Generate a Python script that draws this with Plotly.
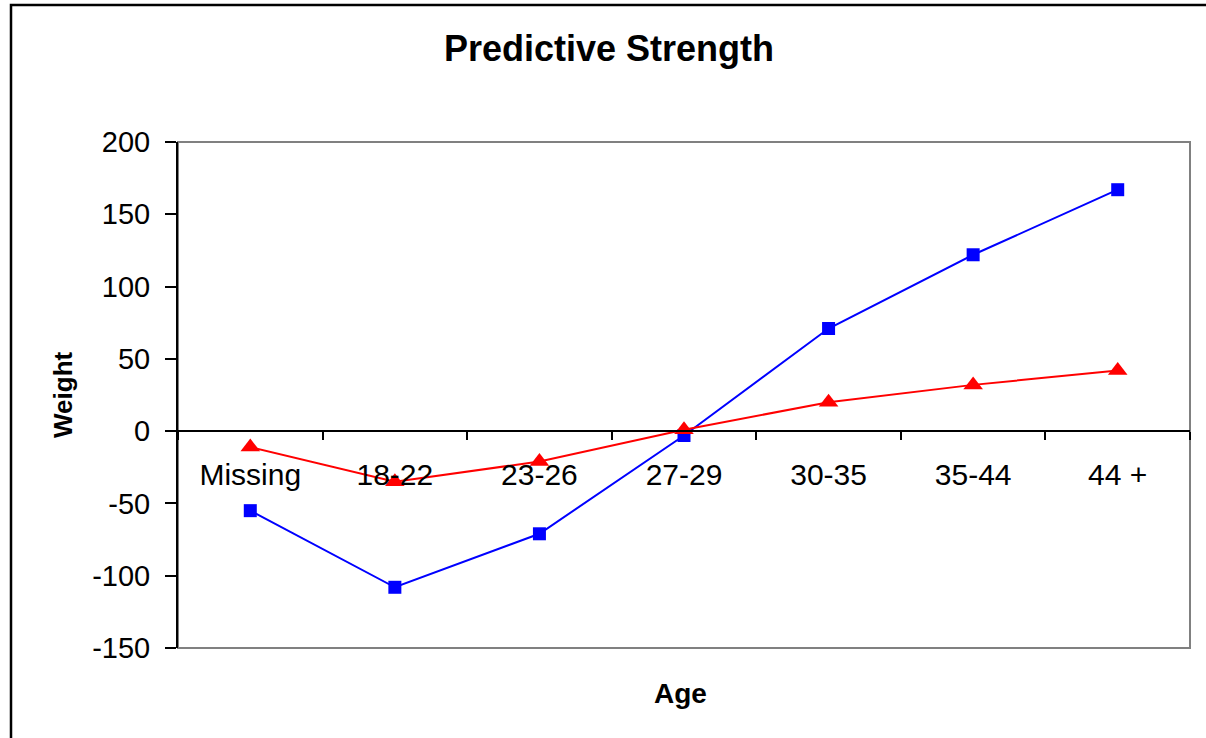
import plotly.graph_objects as go

categories = ["Missing", "18-22", "23-26", "27-29", "30-35", "35-44", "44 +"]
blue_values = [-55, -108, -71, -3, 71, 122, 167]
red_values = [-11, -35, -21, 1, 20, 32, 42]
y_ticks = [-150, -100, -50, 0, 50, 100, 150, 200]
y_tick_labels = ["-150", "-100", "-50", "0", "50", "100", "150", "200"]

FONT = "Arial, Liberation Sans, sans-serif"
W, H = 1206, 738
L, R, T, B = 178, 16, 142, 90
pw, ph = W - L - R, H - T - B

fig = go.Figure()
fig.add_trace(go.Scatter(x=categories, y=blue_values, mode="lines+markers",
                         line=dict(color="#0000FF", width=2),
                         marker=dict(symbol="square", size=13, color="#0000FF")))
fig.add_trace(go.Scatter(x=categories, y=red_values, mode="lines+markers",
                         line=dict(color="#FF0000", width=2),
                         marker=dict(symbol="triangle-up", size=17, color="#FF0000")))

ymin, ymax = -150, 200
zero_frac = (0 - ymin) / (ymax - ymin)

fig.update_layout(
    width=W, height=H,
    margin=dict(l=L, r=R, t=T, b=B),
    paper_bgcolor="white", plot_bgcolor="white",
    showlegend=False,
    font=dict(family=FONT, size=28, color="black"),
    title=dict(text="<b>Predictive Strength</b>", x=609 / W, xref="container", xanchor="center",
               y=1 - 48 / H, yref="container", yanchor="middle",
               font=dict(family=FONT, size=36, color="black")),
    xaxis=dict(type="category", range=[-0.5, 6.5], anchor="free", position=zero_frac,
               showline=True, linecolor="black", linewidth=2,
               ticks="outside", tickson="boundaries", ticklen=8, tickwidth=2, tickcolor="black",
               showgrid=False, zeroline=False,
               ticklabelstandoff=17,
               tickfont=dict(family=FONT, size=30, color="black")),
    yaxis=dict(range=[ymin, ymax], tickvals=y_ticks, ticktext=y_tick_labels,
               showline=True, linecolor="black", linewidth=2,
               ticks="outside", ticklen=11, tickwidth=2, tickcolor="black",
               showgrid=False, zeroline=False, ticklabelstandoff=9,
               tickfont=dict(family=FONT, size=29, color="black")),
    shapes=[
        dict(type="rect", xref="x domain", yref="y domain", x0=0, x1=1, y0=0, y1=1,
             line=dict(color="#808080", width=2), layer="below"),
        dict(type="rect", xref="paper", yref="paper",
             x0=(11 - L) / pw, x1=1.3, y0=-0.5, y1=(H - B - 5) / ph,
             line=dict(color="black", width=2.5), layer="below"),
    ],
    annotations=[
        dict(text="<b>Weight</b>", xref="paper", yref="paper", x=(63 - L) / pw, y=(H - B - 395) / ph,
             textangle=-90, showarrow=False, xanchor="center", yanchor="middle",
             font=dict(family=FONT, size=26, color="black")),
        dict(text="<b>Age</b>", xref="paper", yref="paper", x=(680 - L) / pw, y=(H - B - 693) / ph,
             showarrow=False, xanchor="center", yanchor="middle",
             font=dict(family=FONT, size=28, color="black")),
    ],
)

fig.write_html("out.html", config={"displayModeBar": False},
               post_script="document.body.style.margin='0';document.body.style.overflow='hidden';")
